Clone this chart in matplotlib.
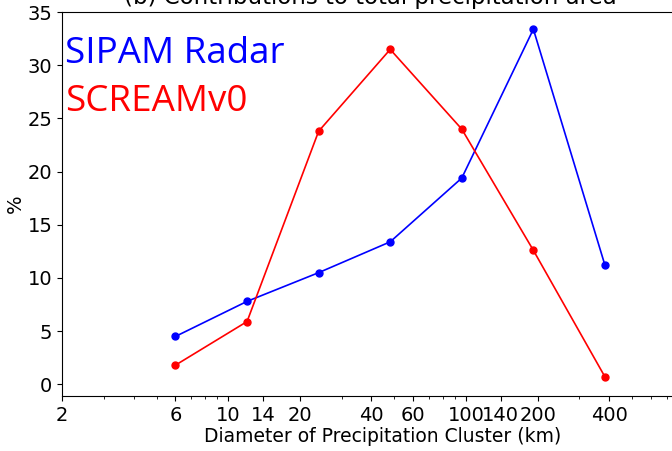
import numpy as np
import matplotlib
matplotlib.use("Agg")
import matplotlib.pyplot as plt

# cluster diameter bins (km) and contributions (%)
diameters = [6, 12, 24, 48, 96, 192, 384]
sipam_radar = [4.5, 7.8, 10.5, 13.4, 19.4, 33.4, 11.2]
scream_v0 = [1.8, 5.9, 23.8, 31.5, 24.0, 12.6, 0.7]

xtick_vals = [2, 6, 10, 14, 20, 40, 60, 100, 140, 200, 400]
xtick_labels = [str(v) for v in xtick_vals]
ytick_vals = [0, 5, 10, 15, 20, 25, 30, 35]

fig = plt.figure(figsize=(6.72, 4.51), dpi=100)
ax = fig.add_axes([0.0923, 0.122, 0.955, 0.851])

ax.plot(diameters, sipam_radar, color='blue', marker='o', markersize=5, linewidth=1.2)
ax.plot(diameters, scream_v0, color='red', marker='o', markersize=5, linewidth=1.2)

ax.set_xscale('log')
ax.set_xlim(2, 1000)
ax.set_ylim(-1.1, 35)
ax.set_xticks(xtick_vals)
ax.set_xticklabels(xtick_labels)
ax.set_yticks(ytick_vals)
ax.tick_params(labelsize=14)

ax.set_xlabel('Diameter of Precipitation Cluster (km)', fontsize=13.5, labelpad=2)
ax.set_ylabel('%', fontsize=14, labelpad=2)
ax.set_title('(b) Contributions to total precipitation area', fontsize=16.5, x=0.48)

ax.text(0.005, 0.89, 'SIPAM Radar', color='blue', fontsize=26.5, family='Open Sans',
        transform=ax.transAxes, va='center')
ax.text(0.005, 0.765, 'SCREAMv0', color='red', fontsize=26.5, family='Open Sans',
        transform=ax.transAxes, va='center')

fig.savefig('out.png', dpi=100)
